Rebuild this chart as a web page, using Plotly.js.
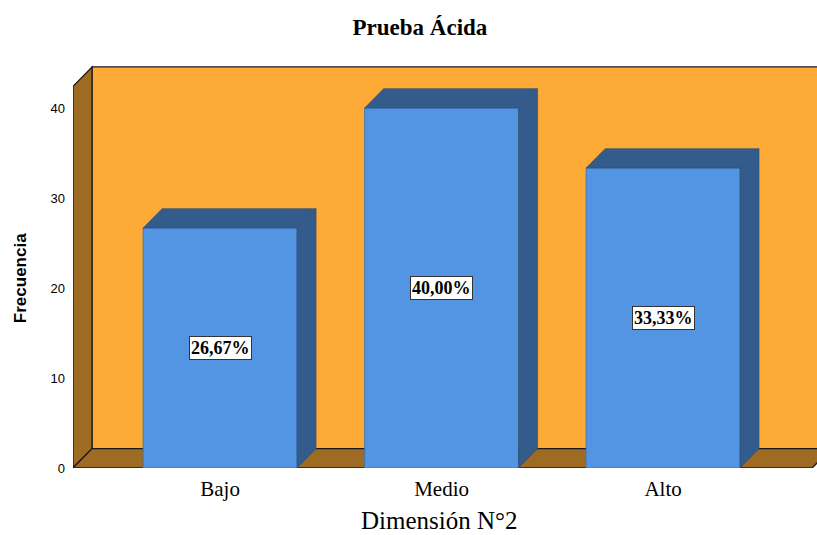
<!DOCTYPE html>
<html>
<head>
<meta charset="utf-8">
<script src="https://cdn.plot.ly/plotly-3.0.1.min.js"></script>
<style>
  html, body { margin: 0; padding: 0; background: #ffffff; }
  #chart { width: 817px; height: 535px; }
</style>
</head>
<body>
<div id="chart"></div>
<script>
// Frequency distribution for "Dimensión N°2"
const categories = ['Bajo', 'Medio', 'Alto'];
const values = [26.67, 40.00, 33.33];
const yTicks = [0, 10, 20, 30, 40];

// Percent labels in Spanish decimal notation
const labels = values.map(v => v.toFixed(2).replace('.', ',') + '%');

// 3D frame geometry (axis units)
const xLo = -0.664;        // front-left edge of the floor
const xHi = 2.673;         // front-right edge of the floor
const xMax = 2.695;        // right end of the x range
const yMax = 44.89;        // top of the y range
const wallTop = 44.56;     // top edge of the back wall
const dx = 0.0858;         // depth offset along x
const dy = 2.15;           // depth offset along y
const barWidth = 0.695;

const COLORS = {
  wall: '#FDAA36',
  side: '#9E6B22',
  front: '#5394E3',
  shade: '#335B8C',
  edge: '#2E4E78'
};

const SERIF = 'Liberation Serif, Times New Roman, serif';
const SANS = 'Liberation Sans, Arial, sans-serif';

const xs = categories.map((_, i) => i);

// Front faces of the bars
const traces = [{
  type: 'bar',
  x: xs,
  y: values,
  width: barWidth,
  marker: { color: COLORS.front, line: { color: '#3E6EA6', width: 0.8 } },
  hoverinfo: 'skip'
}];

// Top and side faces of each bar
values.forEach((v, i) => {
  const l = i - barWidth / 2, r = i + barWidth / 2;
  traces.push({
    type: 'scatter', mode: 'lines', fill: 'toself',
    x: [l, r, r + dx, l + dx, l],
    y: [v, v, v + dy, v + dy, v],
    fillcolor: COLORS.shade,
    line: { color: COLORS.edge, width: 0.6 },
    hoverinfo: 'skip', showlegend: false
  });
  traces.push({
    type: 'scatter', mode: 'lines', fill: 'toself',
    x: [r, r + dx, r + dx, r, r],
    y: [0, dy, v + dy, v, 0],
    fillcolor: COLORS.shade,
    line: { color: COLORS.edge, width: 0.6 },
    hoverinfo: 'skip', showlegend: false
  });
});

// Back wall, left wall and floor
const frameLine = { color: '#1a1a1a', width: 1.3 };
const shapes = [
  {
    type: 'rect', xref: 'x', yref: 'y', layer: 'below',
    x0: xLo + dx, x1: xHi + dx, y0: dy, y1: wallTop,
    fillcolor: COLORS.wall, line: frameLine
  },
  {
    type: 'path', xref: 'x', yref: 'y', layer: 'below',
    path: `M ${xLo},0 L ${xLo + dx},${dy} L ${xLo + dx},${wallTop} L ${xLo},${wallTop - dy} Z`,
    fillcolor: COLORS.side, line: frameLine
  },
  {
    type: 'path', xref: 'x', yref: 'y', layer: 'below',
    path: `M ${xLo},0 L ${xHi},0 L ${xHi + dx},${dy} L ${xLo + dx},${dy} Z`,
    fillcolor: COLORS.side, line: frameLine
  }
];

// Value boxes centred on each bar
const annotations = values.map((v, i) => ({
  x: i, y: v / 2, xref: 'x', yref: 'y',
  text: '<b>' + labels[i] + '</b>',
  showarrow: false,
  font: { family: SERIF, size: 18, color: '#000000' },
  bgcolor: '#ffffff',
  bordercolor: '#333333',
  borderwidth: 1,
  borderpad: 1
}));

// Axis titles
annotations.push({
  text: '<b>Frecuencia</b>',
  xref: 'paper', yref: 'paper',
  x: -0.0712, y: 0.47,
  xanchor: 'center', yanchor: 'middle',
  textangle: -90,
  showarrow: false,
  font: { family: SANS, size: 17, color: '#000000' }
});
annotations.push({
  text: 'Dimensión N°2',
  xref: 'paper', yref: 'paper',
  x: 0.492, y: -0.1658,
  xanchor: 'center', yanchor: 'bottom',
  borderpad: 0,
  showarrow: false,
  font: { family: SERIF, size: 25, color: '#000000' }
});

const layout = {
  width: 817,
  height: 535,
  margin: { l: 73, r: 0, t: 64, b: 67 },
  paper_bgcolor: '#ffffff',
  plot_bgcolor: '#ffffff',
  showlegend: false,
  title: {
    text: '<b>Prueba Ácida</b>',
    x: 0.514, xref: 'container', xanchor: 'center',
    y: 0.95, yref: 'container', yanchor: 'middle',
    font: { family: SERIF, size: 23, color: '#000000' }
  },
  xaxis: {
    range: [xLo, xMax],
    tickvals: xs,
    ticktext: categories,
    showgrid: false, zeroline: false, showline: false,
    ticks: '',
    ticklabelstandoff: 6,
    tickfont: { family: SERIF, size: 21, color: '#000000' },
    fixedrange: true
  },
  yaxis: {
    range: [0, yMax],
    tickvals: yTicks,
    showgrid: false, zeroline: false, showline: false,
    ticks: '',
    ticklabelstandoff: 7,
    tickfont: { family: SANS, size: 13, color: '#000000' },
    fixedrange: true
  },
  shapes: shapes,
  annotations: annotations
};

Plotly.newPlot('chart', traces, layout, { displayModeBar: false, staticPlot: true });
</script>
</body>
</html>
